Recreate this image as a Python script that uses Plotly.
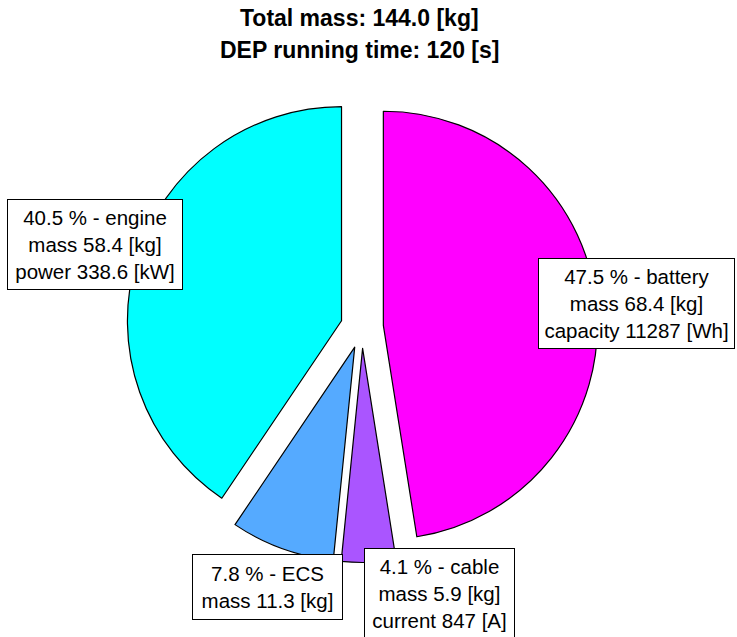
import plotly.graph_objects as go

W, H = 737, 637

# Component breakdown (clockwise from 12 o'clock)
components = ["battery", "cable", "ECS", "engine"]
masses_kg = [68.4, 5.9, 11.3, 58.4]
percent_labels = ["47.5", "4.1", "7.8", "40.5"]
extra_lines = ["capacity 11287 [Wh]", "current 847 [A]", "", "power 338.6 [kW]"]
colors = ["rgb(255,0,255)", "rgb(170,85,255)", "rgb(85,170,255)", "rgb(0,255,255)"]

total_mass = 144.0
dep_time_s = 120

# label box centres (px) and box sizes (px)
box_centers = [(636.5, 303.5), (439.5, 593), (267.5, 587), (95, 244)]
box_sizes = [(195, 89), (149, 89), (149, 64), (174, 89)]

# pie placement
cx, cy, half = 362, 327, 235.5

fig = go.Figure(
    go.Pie(
        labels=components,
        values=masses_kg,
        sort=False,
        direction="clockwise",
        rotation=0,
        pull=[0.1] * len(components),
        marker=dict(colors=colors, line=dict(color="black", width=1.2)),
        textinfo="none",
        hoverinfo="label+value",
        showlegend=False,
        domain=dict(
            x=[(cx - half) / W, (cx + half) / W],
            y=[1 - (cy + half) / H, 1 - (cy - half) / H],
        ),
    )
)

annotations = []
for name, m, pct, extra, (bx, by), (bw, bh) in zip(
    components, masses_kg, percent_labels, extra_lines, box_centers, box_sizes
):
    lines = [f"{pct} % - {name}", f"mass {m} [kg]"]
    if extra:
        lines.append(extra)
    annotations.append(
        dict(
            x=bx / W, y=1 - by / H, xref="paper", yref="paper",
            text="<br>".join(lines), showarrow=False,
            font=dict(family="Liberation Sans, Arial", size=20.5, color="black"),
            align="center", bgcolor="white", bordercolor="black",
            borderwidth=1, borderpad=0, width=bw, height=bh,
            xanchor="center", yanchor="middle",
        )
    )

title_lines = [f"Total mass: {total_mass:.1f} [kg]", f"DEP running time: {dep_time_s} [s]"]
for t, ty in zip(title_lines, [18, 50]):
    annotations.append(
        dict(
            x=359 / W, y=1 - ty / H, xref="paper", yref="paper",
            text=f"<b>{t}</b>", showarrow=False,
            font=dict(family="Liberation Sans, Arial", size=23, color="black"),
            xanchor="center", yanchor="middle",
        )
    )

fig.update_layout(
    width=W, height=H,
    margin=dict(l=0, r=0, t=0, b=0),
    paper_bgcolor="white", plot_bgcolor="white",
    annotations=annotations,
)

fig.write_html("out.html")
